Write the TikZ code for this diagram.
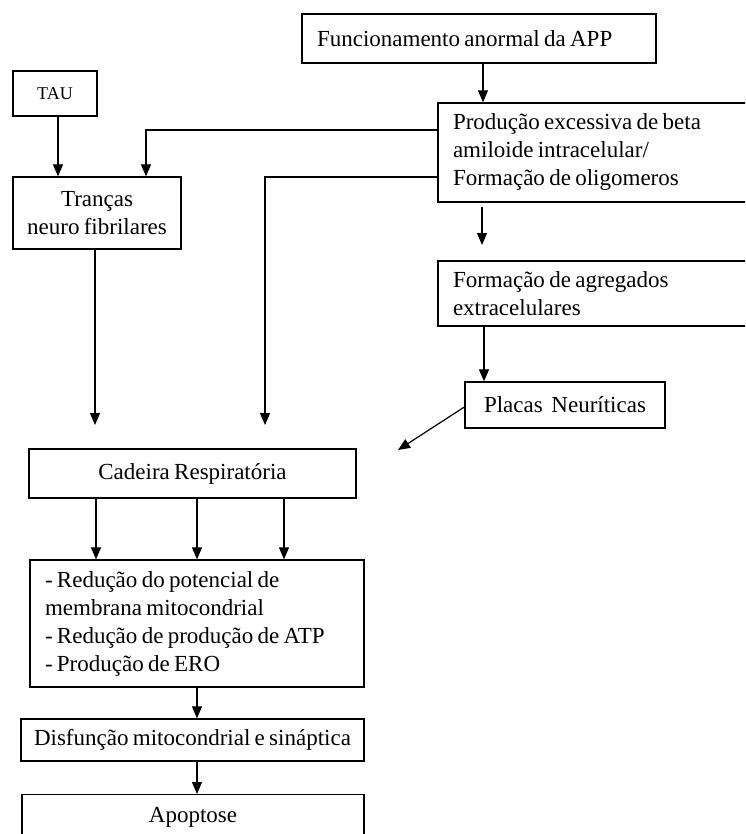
\documentclass[tikz,border=0pt]{standalone}
\usepackage{fontspec}
\setmainfont[WordSpace=0.75]{Liberation Serif}
\usetikzlibrary{arrows.meta}
\begin{document}
\begin{tikzpicture}[x=1pt,y=-1pt,
  box/.style={draw=black,line width=1.3pt,rectangle,inner sep=0pt,font=\fontsize{23}{28}\selectfont},
  lbox/.style={box,align=flush left,inner xsep=15pt},
  arr/.style={line width=1.2pt,-{Triangle[length=12pt,width=10pt]}}]
\useasboundingbox (0,0) rectangle (745,834);
\fill[white] (0,0) rectangle (745,834);
\clip (0,0) rectangle (745,834);
% boxes
\node[lbox,minimum height=49pt,text width=324pt] (fun) at (479,38.5) {Funcionamento anormal da APP};
\node[box,minimum width=84pt,minimum height=45pt,font=\fontsize{18}{22}\selectfont] (tau) at (55,93.5) {TAU};
\node[box,minimum width=168pt,minimum height=72pt,align=center] (tran) at (97,213) {Tranças\\neuro fibrilares};
\node[lbox,minimum height=99pt,text width=292pt] (prod) at (599,152.5) {Produção excessiva de beta\\amiloide intracelular/\\Formação de oligomeros};
\node[lbox,minimum height=65pt,text width=292pt] (form) at (599,293.5) {Formação de agregados\\extracelulares};
\node[box,minimum width=200pt,minimum height=46pt] (plac) at (565,405) {Placas~ Neuríticas};
\node[box,minimum width=327pt,minimum height=49pt] (cad) at (192.5,473.5) {Cadeira Respiratória};
\node[lbox,minimum height=127pt,text width=304pt] (red) at (197,623.5) {- Redução do potencial de\\membrana mitocondrial\\- Redução de produção de ATP\\- Produção de ERO};
\node[box,minimum width=343pt,minimum height=42pt] (dis) at (192.5,740) {Disfunção mitocondrial e sináptica};
\node[box,anchor=north,minimum width=342pt,inner ysep=10pt,text height=18pt,text depth=50pt] (apo) at (193,794) {Apoptose};
% free ends
\coordinate (c1) at (95,425);
\coordinate (c2) at (265,425);
\coordinate (p1) at (482,207);
\coordinate (p2) at (482,245);
\coordinate (c3) at (398,450);
% connectors
\draw[arr] ([xshift=4pt]fun.south) -- ([xshift=-116pt]prod.north);
\draw[arr] ([xshift=3pt]tau.south) -- ([xshift=-39pt]tran.north);
\draw[arr] ([yshift=22.5pt]prod.west) -| ([xshift=49pt]tran.north);
\draw[arr] ([yshift=-24.5pt]prod.west) -| (c2);
\draw[arr] ([xshift=-2pt]tran.south) -- (c1);
\draw[arr] (p1) -- (p2);
\draw[arr] ([xshift=-115pt]form.south) -- ([xshift=-81pt]plac.north);
\draw[arr] ([yshift=-2pt]plac.west) -- (c3);
\draw[arr] ([xshift=-96.5pt]cad.south) -- ([xshift=-101pt]red.north);
\draw[arr] ([xshift=4.5pt]cad.south) -- ([xshift=0pt]red.north);
\draw[arr] ([xshift=91.5pt]cad.south) -- ([xshift=87pt]red.north);
\draw[arr] (red.south) -- ([xshift=4.5pt]dis.north);
\draw[arr] ([xshift=4.5pt]dis.south) -- ([xshift=4pt]apo.north);
\end{tikzpicture}
\end{document}
